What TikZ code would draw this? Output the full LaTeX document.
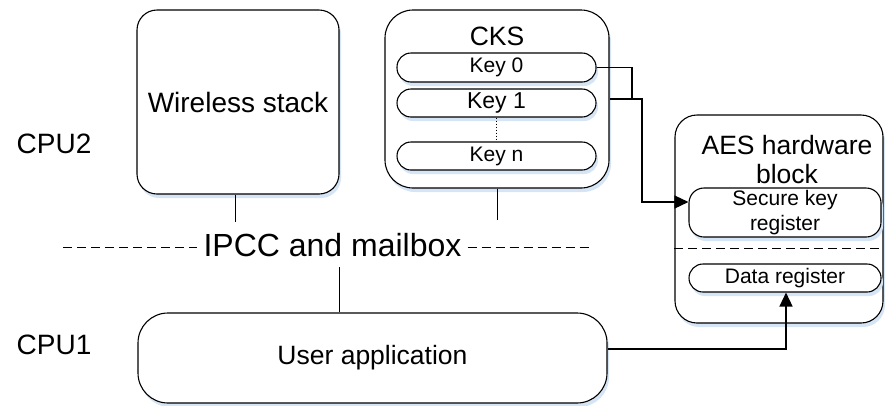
\documentclass[tikz,border=0pt]{standalone}
\usepackage{fontspec}
\setmainfont{Liberation Sans}
\usetikzlibrary{arrows.meta,shadows,calc}
\definecolor{shadowblue}{RGB}{214,229,246}
\tikzset{
  rbox/.style={draw=black, line width=1.1pt, fill=white, rounded corners=#1, inner sep=0pt,
    drop shadow={shadow xshift=2pt, shadow yshift=-4pt, fill=shadowblue, opacity=1}},
  conn/.style={line width=1.4pt},
  thinline/.style={line width=0.9pt},
  tip/.style={-{Triangle[length=14pt,width=13pt]}},
  dashline/.style={line width=0.9pt, dash pattern=on 9pt off 5pt},
  fA/.style={font=\fontsize{21}{25}\selectfont},
  fB/.style={font=\fontsize{23}{27}\selectfont},
  fC/.style={font=\fontsize{26.5}{29}\selectfont},
  fD/.style={font=\fontsize{28}{33}\selectfont},
  fE/.style={font=\fontsize{32}{38}\selectfont},
}
\begin{document}
\begin{tikzpicture}[x=1pt,y=-1pt]
\useasboundingbox (0,0) rectangle (885,405);
\clip (0,0) rectangle (885,405);

% CPU labels
\node[fD, inner sep=0pt] (cpu2) at (54,144) {CPU2};
\node[fD, inner sep=0pt] (cpu1) at (54,345) {CPU1};

% Wireless stack
\node[rbox=20pt, minimum width=202pt, minimum height=184pt, fD] (wl) at (238,102) {Wireless stack};

% CKS
\node[rbox=28pt, minimum width=224pt, minimum height=178pt] (cks) at (497,99) {};
\node[fC, inner sep=0pt] (ckst) at (497,36) {CKS};
\node[rbox=14pt, minimum width=199pt, minimum height=29pt, fA] (k0) at (496.5,67.5) {Key 0};
\node[rbox=14pt, minimum width=199pt, minimum height=28pt, fB] (k1) at (496.5,103) {Key 1};
\node[rbox=14pt, minimum width=199pt, minimum height=28pt, fA] (kn) at (496.5,156) {Key n};
\draw[dotted, line width=1pt] (k1.south) -- (kn.north);

% AES block
\node[rbox=22pt, minimum width=208pt, minimum height=208pt] (aes) at (779,219) {};
\node[fC, align=center, inner sep=0pt] (aest) at (787,160) {AES hardware\\block};
\node[rbox=15pt, minimum width=192pt, minimum height=49pt, fA, align=center] (skr) at (785,212.5) {Secure key\\register};
\coordinate (aesd) at (0,248);
\draw[dashline] (aes.west |- aesd) -- (aes.east |- aesd);
\node[rbox=14pt, minimum width=192pt, minimum height=28pt, fA] (dreg) at (785,278) {Data register};

% User application
\node[rbox=30pt, minimum width=469pt, minimum height=90pt, fC] (ua) at (372.5,358) {User application};

% IPCC
\node[fE, inner ysep=0pt, inner xsep=6pt] (ipcc) at (332.5,245) {IPCC and mailbox};
\coordinate (dl) at (63,247);
\coordinate (dr) at (593,247);
\draw[dashline] (dl) -- (ipcc.west |- dl);
\draw[dashline] (ipcc.east |- dr) -- (dr);

% vertical links to IPCC
\coordinate (wlend) at (235,222);
\draw[thinline] (wlend |- wl.south) -- (wlend);
\coordinate (cksend) at (497,220);
\draw[thinline] (cks.south) -- (cksend);
\coordinate (uatop) at (339,267);
\draw[thinline] (uatop) -- (uatop |- ua.north);

% key connectors
\coordinate (j0) at (632,67.5);
\draw[conn] (k0.east) -- (j0) -- (j0 |- cks.east);
\coordinate (j1) at (642,99);
\coordinate (ska) at (689,202);
\draw[conn, tip] (cks.east) -- (j1) -- (j1 |- ska) -- (skr.west |- ska);

% user app to data register
\coordinate (ua0) at (607,349);
\coordinate (dcol) at (786,0);
\draw[conn, tip] (ua.east |- ua0) -- (dcol |- ua0) -- (dcol |- dreg.south);
\end{tikzpicture}
\end{document}
